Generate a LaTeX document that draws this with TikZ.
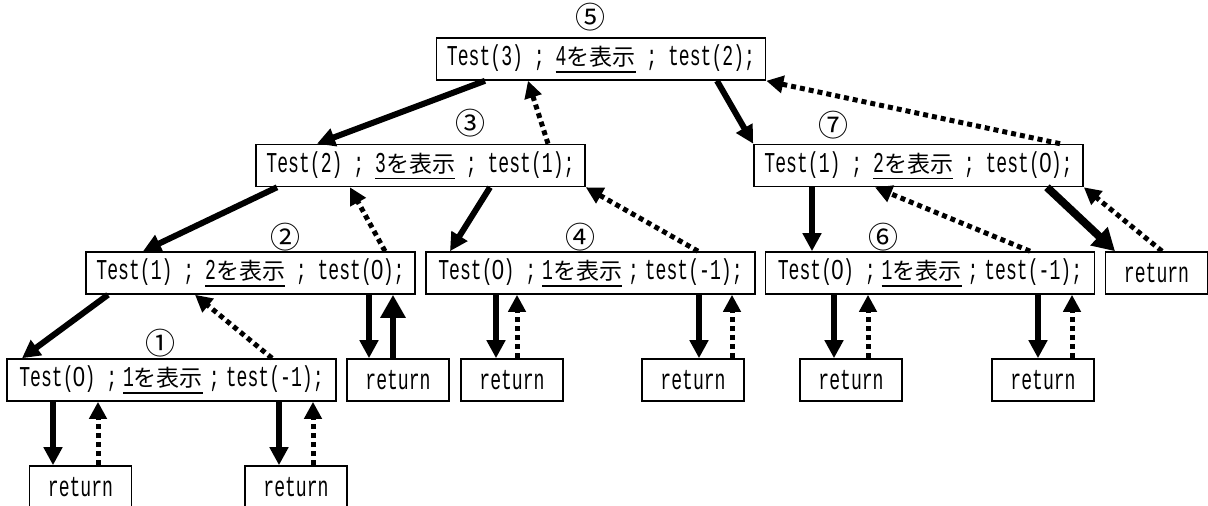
\documentclass[tikz,border=0pt]{standalone}
\usepackage{fontspec}
\setmainfont[FakeStretch=0.63,Scale=1.25]{Liberation Mono}
\newfontfamily\jpfont{Noto Sans CJK JP}
\newfontfamily\digitfont[FakeStretch=0.8,Scale=1.2]{Liberation Sans}
\usetikzlibrary{arrows.meta}
\newcommand\txtsize{\fontsize{23}{27}\selectfont}
\newcommand\kj[1]{{\jpfont #1}}
\newcommand\ulbox[1]{\setbox0\hbox{#1}\rlap{\raisebox{-7pt}{\rule{\wd0}{1.8pt}}}\box0\relax}
\newcommand\zero{\setbox2\hbox{1}\hbox to\wd2{\hss\digitfont 0\hss}}
\newcommand\gap{\hspace{6pt}}
\tikzset{
  fn/.style={draw, line width=1.6pt, minimum width=329pt, minimum height=42pt, inner sep=0pt, font=\txtsize},
  ret/.style={fn, minimum width=102pt},
  call/.style={line width=6pt, -{Triangle[length=18pt,width=18pt]}},
  back/.style={line width=5pt, dash pattern=on 5pt off 4pt, -{Triangle[length=17pt,width=17pt]}},
  order/.style={font=\jpfont\fontsize{30}{34}\selectfont}
}

\begin{document}
\begin{tikzpicture}[x=1pt, y=-1pt]
  \clip (0,0) rectangle (1208,506);
  % calls
  \node[fn] (t5) at (601,59) {Test(3) ; \ulbox{4\kj{を表示}} ; test(2);};
  \node[fn] (t3) at (420.5,165.5) {Test(2) ; \ulbox{3\kj{を表示}} ; test(1);};
  \node[fn] (t7) at (918.5,165.5) {Test(1) ; \ulbox{2\kj{を表示}} ; test(\zero);};
  \node[fn] (t2) at (250.5,273) {Test(1) ; \ulbox{2\kj{を表示}} ; test(\zero);};
  \node[fn] (t4) at (590.5,273) {Test(\zero) ;\gap\ulbox{1\kj{を表示}}\gap;\gap test(-1);};
  \node[fn] (t6) at (930,273) {Test(\zero) ;\gap\ulbox{1\kj{を表示}}\gap;\gap test(-1);};
  \node[fn] (t1) at (171.5,380) {Test(\zero) ;\gap\ulbox{1\kj{を表示}}\gap;\gap test(-1);};
  % returns
  \node[ret] (r7) at (1156.5,273) {return};
  \node[ret] (r2) at (398,380) {return};
  \node[ret] (r4a) at (512,380) {return};
  \node[ret] (r4b) at (693,380) {return};
  \node[ret] (r6a) at (851,380) {return};
  \node[ret] (r6b) at (1043,380) {return};
  \node[ret] (r1a) at (80.5,487) {return};
  \node[ret] (r1b) at (296,487) {return};
  % order of output
  \node[order] (n5) at (590,17) {⑤};
  \node[order] (n3) at (470,123) {③};
  \node[order] (n7) at (833,125) {⑦};
  \node[order] (n2) at (285,237) {②};
  \node[order] (n4) at (580,237) {④};
  \node[order] (n6) at (883,237) {⑥};
  \node[order] (n1) at (160,343) {①};

  % top level
  \draw[call] ([xshift=-116pt]t5.south) -- ([xshift=-103.5pt]t3.north);
  \draw[back] ([xshift=127.5pt]t3.north) -- ([xshift=-73pt]t5.south);
  \draw[call] ([xshift=116pt]t5.south) -- (t7.north west);
  \draw[back] ([xshift=141.5pt]t7.north) -- (t5.south east);

  % Test(2)
  \draw[call] ([xshift=-143.5pt]t3.south) -- ([xshift=-107.5pt]t2.north);
  \draw[back] ([xshift=134.5pt]t2.north) -- ([xshift=-70.5pt]t3.south);
  \draw[call] ([xshift=69.5pt]t3.south) -- ([xshift=-140.5pt]t4.north);
  \draw[back] ([xshift=107.5pt]t4.north) -- (t3.south east);

  % Test(1), right side
  \draw[call] ([xshift=-106.5pt]t7.south) -- ([xshift=-118pt]t6.north);
  \draw[back] ([xshift=100pt]t6.north) -- ([xshift=-43.5pt]t7.south);
  \draw[call, line width=8pt, -{Triangle[length=22pt,width=24pt]}] ([xshift=128.5pt]t7.south) -- ([xshift=-41.5pt]r7.north);
  \draw[back] ([xshift=5.5pt]r7.north) -- (t7.south east);

  % Test(1), left side
  \draw[call] ([xshift=-142.5pt]t2.south) -- ([xshift=-149.5pt]t1.north);
  \draw[back] ([xshift=100.5pt]t1.north) -- ([xshift=-55.5pt]t2.south);
  \draw[call] ([xshift=118.5pt]t2.south) -- ([xshift=-29pt]r2.north);
  \draw[call, -{Triangle[length=23pt,width=24pt]}] ([xshift=-5pt]r2.north) -- ([xshift=142.5pt]t2.south);

  % Test(0) -> return
  \draw[call] ([xshift=-94.5pt]t4.south) -- ([xshift=-16pt]r4a.north);
  \draw[back] ([xshift=5pt]r4a.north) -- ([xshift=-73.5pt]t4.south);
  \draw[call] ([xshift=108.5pt]t4.south) -- ([xshift=6pt]r4b.north);
  \draw[back] ([xshift=39pt]r4b.north) -- ([xshift=141.5pt]t4.south);

  \draw[call] ([xshift=-96pt]t6.south) -- ([xshift=-17pt]r6a.north);
  \draw[back] ([xshift=17pt]r6a.north) -- ([xshift=-62pt]t6.south);
  \draw[call] ([xshift=108pt]t6.south) -- ([xshift=-5pt]r6b.north);
  \draw[back] ([xshift=29pt]r6b.north) -- ([xshift=142pt]t6.south);

  \draw[call] ([xshift=-118.5pt]t1.south) -- ([xshift=-27.5pt]r1a.north);
  \draw[back] ([xshift=17.5pt]r1a.north) -- ([xshift=-73.5pt]t1.south);
  \draw[call] ([xshift=107.5pt]t1.south) -- ([xshift=-17pt]r1b.north);
  \draw[back] ([xshift=17pt]r1b.north) -- ([xshift=141.5pt]t1.south);
\end{tikzpicture}
\end{document}
